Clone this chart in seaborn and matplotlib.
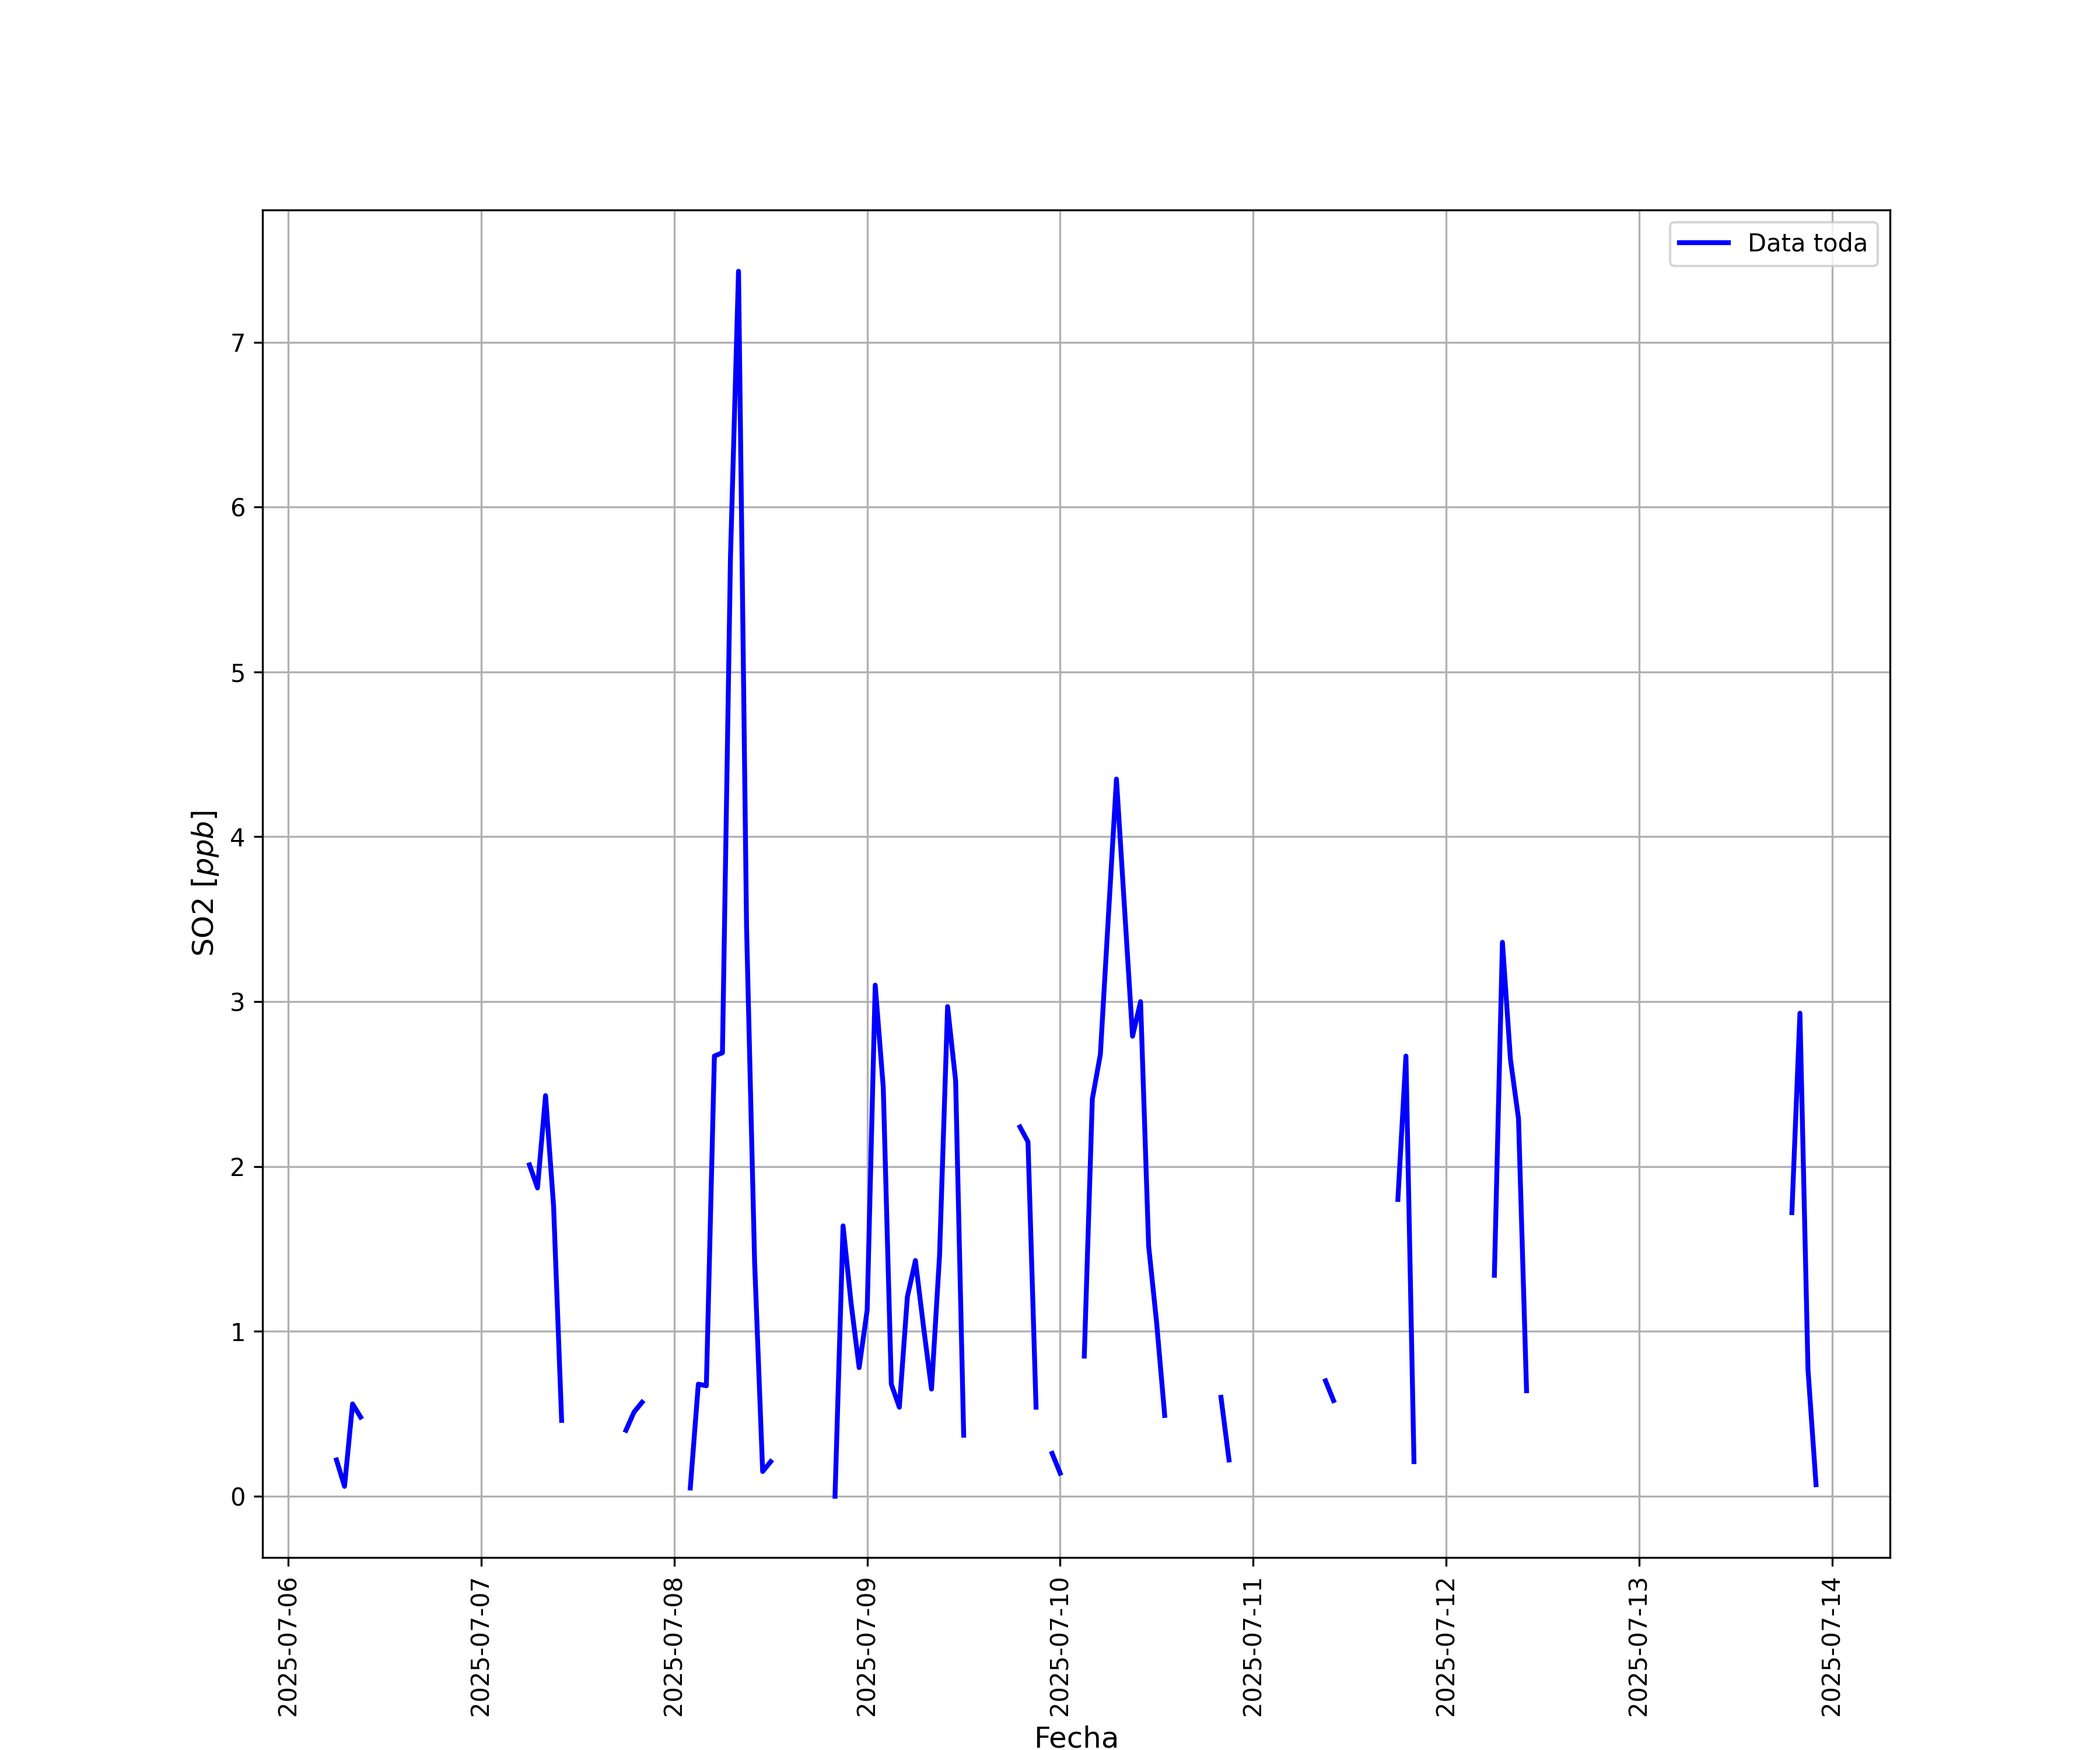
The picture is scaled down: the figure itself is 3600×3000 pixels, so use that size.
import pandas as pd
import seaborn as sns
import matplotlib.pyplot as plt
import matplotlib.dates as mdates

# Tramos horarios con datos (entre tramos no hay medicion)
inicio_tramos = [
	"2025-07-06 06:00",
	"2025-07-07 06:00",
	"2025-07-07 18:00",
	"2025-07-08 02:00",
	"2025-07-08 20:00",
	"2025-07-09 19:00",
	"2025-07-09 23:00",
	"2025-07-10 03:00",
	"2025-07-10 20:00",
	"2025-07-11 09:00",
	"2025-07-11 18:00",
	"2025-07-12 06:00",
	"2025-07-13 19:00",
]

so2_tramos = [
	[0.22, 0.06, 0.56, 0.48],
	[2.01, 1.87, 2.43, 1.76, 0.46],
	[0.40, 0.51, 0.57],
	[0.05, 0.68, 0.67, 2.67, 2.69, 5.70, 7.43, 3.45, 1.42, 0.15, 0.21],
	[0.00, 1.64, 1.17, 0.78, 1.13, 3.10, 2.48, 0.68, 0.54, 1.21, 1.43, 1.03, 0.65, 1.46, 2.97, 2.52, 0.37],
	[2.24, 2.15, 0.54],
	[0.26, 0.14],
	[0.85, 2.41, 2.68, 3.52, 4.35, 3.57, 2.79, 3.00, 1.52, 1.05, 0.49],
	[0.60, 0.22],
	[0.70, 0.58],
	[1.80, 2.67, 0.21],
	[1.34, 3.36, 2.65, 2.29, 0.64],
	[1.72, 2.93, 0.77, 0.07],
]

# Armar el DataFrame con una columna de tramo para no unir los huecos
filas = []
for i, (ini, valores) in enumerate(zip(inicio_tramos, so2_tramos)):
	fechas = pd.date_range(ini, periods=len(valores), freq="h")
	for f, v in zip(fechas, valores):
		filas.append({"Fecha": f, "SO2": v, "tramo": i})
df = pd.DataFrame(filas)

fig, ax = plt.subplots(figsize=(12, 10))
sns.lineplot(data=df, x="Fecha", y="SO2", units="tramo", estimator=None,
			 color="blue", linewidth=2, label="Data toda", ax=ax)

# Leyenda con una sola entrada
handles, labels = ax.get_legend_handles_labels()
ax.legend(handles[:1], labels[:1], loc="upper right")

ax.xaxis.set_major_locator(mdates.DayLocator())
ax.xaxis.set_major_formatter(mdates.DateFormatter("%Y-%m-%d"))
plt.xticks(rotation=90)
ax.grid(True)
ax.set_xlabel("Fecha", fontsize=12)
ax.set_ylabel("SO2 [$ppb$]", fontsize=12)

plt.savefig("out.png", dpi=300)
